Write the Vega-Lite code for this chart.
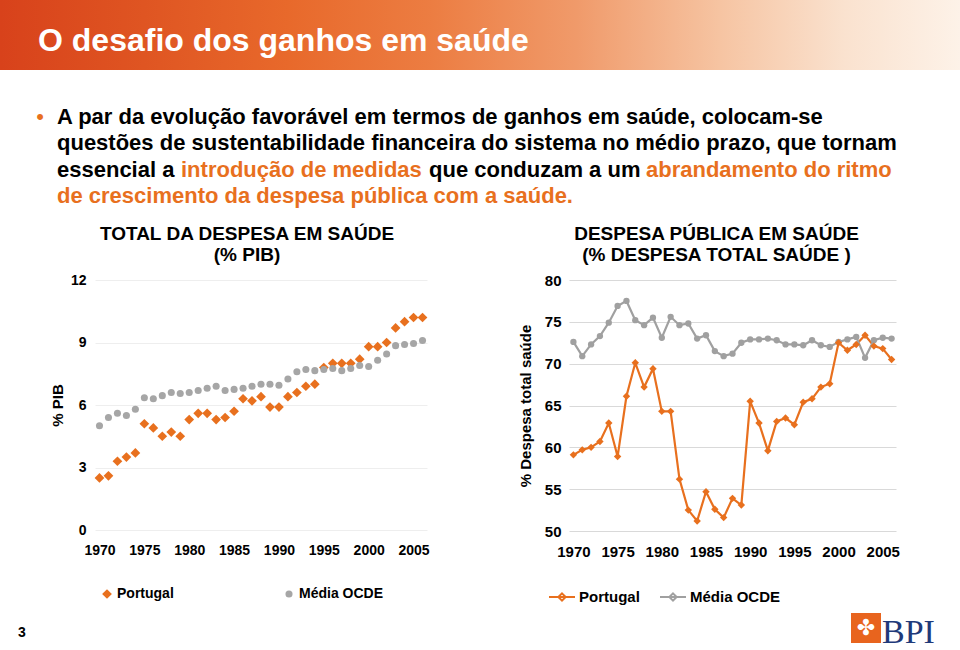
{
  "$schema": "https://vega.github.io/schema/vega-lite/v6.json",
  "padding": 0,
  "background": "white",
  "spacing": 0,
  "bounds": "flush",
  "config": {
    "view": {"stroke": null},
    "font": "Liberation Sans",
    "concat": {"spacing": 0},
    "axis": {"domain": false, "ticks": false, "labelFontWeight": "bold", "labelColor": "#000", "titleColor": "#000", "titleFontWeight": "bold", "labelFont": "Liberation Sans", "titleFont": "Liberation Sans"},
    "legend": {"labelFont": "Liberation Sans"},
    "title": {"font": "Liberation Sans"}
  },
  "datasets": {
    "pib": [
      {"ano": 1970, "serie": "Portugal", "v": 2.5}, {"ano": 1971, "serie": "Portugal", "v": 2.6}, {"ano": 1972, "serie": "Portugal", "v": 3.3}, {"ano": 1973, "serie": "Portugal", "v": 3.5}, {"ano": 1974, "serie": "Portugal", "v": 3.7},
      {"ano": 1975, "serie": "Portugal", "v": 5.1}, {"ano": 1976, "serie": "Portugal", "v": 4.9}, {"ano": 1977, "serie": "Portugal", "v": 4.5}, {"ano": 1978, "serie": "Portugal", "v": 4.7}, {"ano": 1979, "serie": "Portugal", "v": 4.5},
      {"ano": 1980, "serie": "Portugal", "v": 5.3}, {"ano": 1981, "serie": "Portugal", "v": 5.6}, {"ano": 1982, "serie": "Portugal", "v": 5.6}, {"ano": 1983, "serie": "Portugal", "v": 5.3}, {"ano": 1984, "serie": "Portugal", "v": 5.4},
      {"ano": 1985, "serie": "Portugal", "v": 5.7}, {"ano": 1986, "serie": "Portugal", "v": 6.3}, {"ano": 1987, "serie": "Portugal", "v": 6.2}, {"ano": 1988, "serie": "Portugal", "v": 6.4}, {"ano": 1989, "serie": "Portugal", "v": 5.9},
      {"ano": 1990, "serie": "Portugal", "v": 5.9}, {"ano": 1991, "serie": "Portugal", "v": 6.4}, {"ano": 1992, "serie": "Portugal", "v": 6.6}, {"ano": 1993, "serie": "Portugal", "v": 6.9}, {"ano": 1994, "serie": "Portugal", "v": 7.0},
      {"ano": 1995, "serie": "Portugal", "v": 7.8}, {"ano": 1996, "serie": "Portugal", "v": 8.0}, {"ano": 1997, "serie": "Portugal", "v": 8.0}, {"ano": 1998, "serie": "Portugal", "v": 8.0}, {"ano": 1999, "serie": "Portugal", "v": 8.2},
      {"ano": 2000, "serie": "Portugal", "v": 8.8}, {"ano": 2001, "serie": "Portugal", "v": 8.8}, {"ano": 2002, "serie": "Portugal", "v": 9.0}, {"ano": 2003, "serie": "Portugal", "v": 9.7}, {"ano": 2004, "serie": "Portugal", "v": 10.0},
      {"ano": 2005, "serie": "Portugal", "v": 10.2}, {"ano": 2006, "serie": "Portugal", "v": 10.2},
      {"ano": 1970, "serie": "Média OCDE", "v": 5.0}, {"ano": 1971, "serie": "Média OCDE", "v": 5.4}, {"ano": 1972, "serie": "Média OCDE", "v": 5.6}, {"ano": 1973, "serie": "Média OCDE", "v": 5.5}, {"ano": 1974, "serie": "Média OCDE", "v": 5.8},
      {"ano": 1975, "serie": "Média OCDE", "v": 6.35}, {"ano": 1976, "serie": "Média OCDE", "v": 6.3}, {"ano": 1977, "serie": "Média OCDE", "v": 6.45}, {"ano": 1978, "serie": "Média OCDE", "v": 6.6}, {"ano": 1979, "serie": "Média OCDE", "v": 6.55},
      {"ano": 1980, "serie": "Média OCDE", "v": 6.6}, {"ano": 1981, "serie": "Média OCDE", "v": 6.7}, {"ano": 1982, "serie": "Média OCDE", "v": 6.8}, {"ano": 1983, "serie": "Média OCDE", "v": 6.9}, {"ano": 1984, "serie": "Média OCDE", "v": 6.7},
      {"ano": 1985, "serie": "Média OCDE", "v": 6.75}, {"ano": 1986, "serie": "Média OCDE", "v": 6.8}, {"ano": 1987, "serie": "Média OCDE", "v": 6.9}, {"ano": 1988, "serie": "Média OCDE", "v": 7.0}, {"ano": 1989, "serie": "Média OCDE", "v": 7.0},
      {"ano": 1990, "serie": "Média OCDE", "v": 6.95}, {"ano": 1991, "serie": "Média OCDE", "v": 7.25}, {"ano": 1992, "serie": "Média OCDE", "v": 7.6}, {"ano": 1993, "serie": "Média OCDE", "v": 7.7}, {"ano": 1994, "serie": "Média OCDE", "v": 7.65},
      {"ano": 1995, "serie": "Média OCDE", "v": 7.7}, {"ano": 1996, "serie": "Média OCDE", "v": 7.75}, {"ano": 1997, "serie": "Média OCDE", "v": 7.65}, {"ano": 1998, "serie": "Média OCDE", "v": 7.75}, {"ano": 1999, "serie": "Média OCDE", "v": 7.9},
      {"ano": 2000, "serie": "Média OCDE", "v": 7.85}, {"ano": 2001, "serie": "Média OCDE", "v": 8.15}, {"ano": 2002, "serie": "Média OCDE", "v": 8.45}, {"ano": 2003, "serie": "Média OCDE", "v": 8.85}, {"ano": 2004, "serie": "Média OCDE", "v": 8.9},
      {"ano": 2005, "serie": "Média OCDE", "v": 8.95}, {"ano": 2006, "serie": "Média OCDE", "v": 9.1}
    ],
    "pub": [
      {"ano": 1970, "serie": "Portugal", "v": 59.1}, {"ano": 1971, "serie": "Portugal", "v": 59.7}, {"ano": 1972, "serie": "Portugal", "v": 60.0}, {"ano": 1973, "serie": "Portugal", "v": 60.7}, {"ano": 1974, "serie": "Portugal", "v": 62.9},
      {"ano": 1975, "serie": "Portugal", "v": 58.9}, {"ano": 1976, "serie": "Portugal", "v": 66.1}, {"ano": 1977, "serie": "Portugal", "v": 70.1}, {"ano": 1978, "serie": "Portugal", "v": 67.2}, {"ano": 1979, "serie": "Portugal", "v": 69.4},
      {"ano": 1980, "serie": "Portugal", "v": 64.3}, {"ano": 1981, "serie": "Portugal", "v": 64.3}, {"ano": 1982, "serie": "Portugal", "v": 56.2}, {"ano": 1983, "serie": "Portugal", "v": 52.5}, {"ano": 1984, "serie": "Portugal", "v": 51.2},
      {"ano": 1985, "serie": "Portugal", "v": 54.7}, {"ano": 1986, "serie": "Portugal", "v": 52.6}, {"ano": 1987, "serie": "Portugal", "v": 51.6}, {"ano": 1988, "serie": "Portugal", "v": 53.9}, {"ano": 1989, "serie": "Portugal", "v": 53.1},
      {"ano": 1990, "serie": "Portugal", "v": 65.5}, {"ano": 1991, "serie": "Portugal", "v": 62.9}, {"ano": 1992, "serie": "Portugal", "v": 59.6}, {"ano": 1993, "serie": "Portugal", "v": 63.1}, {"ano": 1994, "serie": "Portugal", "v": 63.5},
      {"ano": 1995, "serie": "Portugal", "v": 62.7}, {"ano": 1996, "serie": "Portugal", "v": 65.4}, {"ano": 1997, "serie": "Portugal", "v": 65.8}, {"ano": 1998, "serie": "Portugal", "v": 67.2}, {"ano": 1999, "serie": "Portugal", "v": 67.6},
      {"ano": 2000, "serie": "Portugal", "v": 72.5}, {"ano": 2001, "serie": "Portugal", "v": 71.6}, {"ano": 2002, "serie": "Portugal", "v": 72.3}, {"ano": 2003, "serie": "Portugal", "v": 73.4}, {"ano": 2004, "serie": "Portugal", "v": 72.1},
      {"ano": 2005, "serie": "Portugal", "v": 71.8}, {"ano": 2006, "serie": "Portugal", "v": 70.5},
      {"ano": 1970, "serie": "Média OCDE", "v": 72.6}, {"ano": 1971, "serie": "Média OCDE", "v": 70.9}, {"ano": 1972, "serie": "Média OCDE", "v": 72.3}, {"ano": 1973, "serie": "Média OCDE", "v": 73.3}, {"ano": 1974, "serie": "Média OCDE", "v": 74.9},
      {"ano": 1975, "serie": "Média OCDE", "v": 76.9}, {"ano": 1976, "serie": "Média OCDE", "v": 77.5}, {"ano": 1977, "serie": "Média OCDE", "v": 75.2}, {"ano": 1978, "serie": "Média OCDE", "v": 74.6}, {"ano": 1979, "serie": "Média OCDE", "v": 75.5},
      {"ano": 1980, "serie": "Média OCDE", "v": 73.1}, {"ano": 1981, "serie": "Média OCDE", "v": 75.6}, {"ano": 1982, "serie": "Média OCDE", "v": 74.6}, {"ano": 1983, "serie": "Média OCDE", "v": 74.8}, {"ano": 1984, "serie": "Média OCDE", "v": 73.0},
      {"ano": 1985, "serie": "Média OCDE", "v": 73.4}, {"ano": 1986, "serie": "Média OCDE", "v": 71.5}, {"ano": 1987, "serie": "Média OCDE", "v": 70.9}, {"ano": 1988, "serie": "Média OCDE", "v": 71.2}, {"ano": 1989, "serie": "Média OCDE", "v": 72.5},
      {"ano": 1990, "serie": "Média OCDE", "v": 72.9}, {"ano": 1991, "serie": "Média OCDE", "v": 72.9}, {"ano": 1992, "serie": "Média OCDE", "v": 73.0}, {"ano": 1993, "serie": "Média OCDE", "v": 72.8}, {"ano": 1994, "serie": "Média OCDE", "v": 72.3},
      {"ano": 1995, "serie": "Média OCDE", "v": 72.3}, {"ano": 1996, "serie": "Média OCDE", "v": 72.2}, {"ano": 1997, "serie": "Média OCDE", "v": 72.8}, {"ano": 1998, "serie": "Média OCDE", "v": 72.2}, {"ano": 1999, "serie": "Média OCDE", "v": 72.0},
      {"ano": 2000, "serie": "Média OCDE", "v": 72.6}, {"ano": 2001, "serie": "Média OCDE", "v": 72.9}, {"ano": 2002, "serie": "Média OCDE", "v": 73.2}, {"ano": 2003, "serie": "Média OCDE", "v": 70.7}, {"ano": 2004, "serie": "Média OCDE", "v": 72.8},
      {"ano": 2005, "serie": "Média OCDE", "v": 73.1}, {"ano": 2006, "serie": "Média OCDE", "v": 73.0}
    ]
  },
  "vconcat": [
    {
      "width": 960,
      "height": 70,
      "data": {"values": [{}]},
      "layer": [
        {
          "mark": {"type": "rect", "color": {"gradient": "linear", "x1": 0, "y1": 0, "x2": 1, "y2": 0, "stops": [
            {"offset": 0, "color": "#d8421b"},
            {"offset": 0.15, "color": "#df5522"},
            {"offset": 0.3, "color": "#e8692b"},
            {"offset": 0.45, "color": "#ec7d42"},
            {"offset": 0.6, "color": "#f09a6a"},
            {"offset": 0.75, "color": "#f6c4a2"},
            {"offset": 0.88, "color": "#fae2cf"},
            {"offset": 1, "color": "#fdf2e8"}
          ]}},
          "encoding": {}
        },
        {
          "mark": {"type": "text", "text": "O desafio dos ganhos em saúde", "align": "left", "baseline": "middle", "fontSize": 32, "fontWeight": "bold", "color": "white", "font": "Liberation Sans"},
          "encoding": {"x": {"value": 38}, "y": {"value": 41}}
        }
      ]
    },
    {
      "width": 960,
      "height": 210,
      "data": {"values": [{}]},
      "layer": [
        {"mark": {"type": "text", "text": "•", "align": "center", "baseline": "alphabetic", "fontSize": 22, "color": "#E8701E"}, "encoding": {"x": {"value": 40}, "y": {"value": 54}}},
        {"mark": {"type": "text", "text": "A par da evolução favorável em termos de ganhos em saúde, colocam-se", "align": "left", "baseline": "alphabetic", "fontSize": 22, "fontWeight": "bold", "color": "#000"}, "encoding": {"x": {"value": 57}, "y": {"value": 54}}},
        {"mark": {"type": "text", "text": "questões de sustentabilidade financeira do sistema no médio prazo, que tornam", "align": "left", "baseline": "alphabetic", "fontSize": 22, "fontWeight": "bold", "color": "#000"}, "encoding": {"x": {"value": 57}, "y": {"value": 80}}},
        {"mark": {"type": "text", "text": "essencial a", "align": "left", "baseline": "alphabetic", "fontSize": 22, "fontWeight": "bold", "color": "#000"}, "encoding": {"x": {"value": 57}, "y": {"value": 107}}},
        {"mark": {"type": "text", "text": "introdução de medidas", "align": "left", "baseline": "alphabetic", "fontSize": 22, "fontWeight": "bold", "color": "#E8701E"}, "encoding": {"x": {"value": 181}, "y": {"value": 107}}},
        {"mark": {"type": "text", "text": "que conduzam a um", "align": "left", "baseline": "alphabetic", "fontSize": 22, "fontWeight": "bold", "color": "#000"}, "encoding": {"x": {"value": 429}, "y": {"value": 107}}},
        {"mark": {"type": "text", "text": "abrandamento do ritmo", "align": "left", "baseline": "alphabetic", "fontSize": 22, "fontWeight": "bold", "color": "#E8701E"}, "encoding": {"x": {"value": 646}, "y": {"value": 107}}},
        {"mark": {"type": "text", "text": "de crescimento da despesa pública com a saúde.", "align": "left", "baseline": "alphabetic", "fontSize": 22, "fontWeight": "bold", "color": "#E8701E"}, "encoding": {"x": {"value": 57}, "y": {"value": 133}}},
        {"mark": {"type": "text", "text": "3", "align": "left", "baseline": "alphabetic", "fontSize": 14, "fontWeight": "bold", "color": "#000"}, "encoding": {"x": {"value": 18}, "y": {"value": 567}}},
        {"mark": {"type": "point", "shape": "square", "size": 900, "filled": true, "opacity": 1, "color": "#E8641E"}, "encoding": {"x": {"value": 866}, "y": {"value": 558}}},
        {"mark": {"type": "text", "text": "✤", "align": "center", "baseline": "middle", "fontSize": 22, "color": "white", "font": "DejaVu Sans"}, "encoding": {"x": {"value": 866}, "y": {"value": 558}}},
        {"mark": {"type": "text", "text": "BPI", "align": "left", "baseline": "alphabetic", "fontSize": 34, "color": "#1f3a7a", "font": "Liberation Serif"}, "encoding": {"x": {"value": 882}, "y": {"value": 573}}}
      ]
    },
    {
      "spacing": 0,
      "bounds": "flush",
      "resolve": {"scale": {"x": "independent", "y": "independent", "color": "independent", "shape": "independent", "size": "independent"}, "legend": {"color": "independent", "shape": "independent", "size": "independent"}},
      "hconcat": [
        {"width": 95, "height": 250, "data": {"values": []}, "mark": "point", "encoding": {}},
        {
          "width": 332,
          "height": 250,
          "data": {"name": "pib"},
          "title": {"text": ["TOTAL DA DESPESA EM SAÚDE", "(% PIB)"], "fontSize": 19, "fontWeight": "bold", "color": "#000", "anchor": "middle", "frame": "group", "dx": -14, "offset": 8, "lineHeight": 21},
          "mark": {"type": "point", "filled": true, "opacity": 1},
          "encoding": {
            "x": {"field": "ano", "type": "quantitative", "scale": {"domain": [1969.5, 2006.5], "nice": false, "zero": false},
                  "axis": {"values": [1970, 1975, 1980, 1985, 1990, 1995, 2000, 2005], "format": "d", "title": null, "grid": false, "labelFontSize": 14, "labelPadding": 13, "labelFlush": false}},
            "y": {"field": "v", "type": "quantitative", "scale": {"domain": [0, 12], "nice": false},
                  "axis": {"values": [0, 3, 6, 9, 12], "title": "% PIB", "titleFontSize": 15, "titlePadding": 5, "labelFontSize": 14, "labelPadding": 9, "grid": true, "gridColor": "#eeeeee"}},
            "color": {"field": "serie", "type": "nominal", "scale": {"domain": ["Portugal", "Média OCDE"], "range": ["#E8701E", "#A6A6A6"]},
                      "legend": {"title": null, "orient": "none", "legendX": 5, "legendY": 307, "direction": "horizontal", "columnPadding": 108, "labelFontSize": 14, "labelFontWeight": "bold", "labelColor": "#000", "labelOffset": 3}},
            "shape": {"field": "serie", "type": "nominal", "scale": {"domain": ["Portugal", "Média OCDE"], "range": ["diamond", "circle"]},
                      "legend": {"title": null, "orient": "none", "legendX": 5, "legendY": 307, "direction": "horizontal", "columnPadding": 108, "labelFontSize": 14, "labelFontWeight": "bold", "labelColor": "#000", "labelOffset": 3}},
            "size": {"field": "serie", "type": "nominal", "scale": {"domain": ["Portugal", "Média OCDE"], "range": [95, 50]},
                     "legend": {"title": null, "orient": "none", "legendX": 5, "legendY": 307, "direction": "horizontal", "columnPadding": 108, "labelFontSize": 14, "labelFontWeight": "bold", "labelColor": "#000", "labelOffset": 3}}
          }
        },
        {"width": 142, "height": 250, "data": {"values": []}, "mark": "point", "encoding": {}},
        {
          "width": 327,
          "height": 251,
          "data": {"name": "pub"},
          "title": {"text": ["DESPESA PÚBLICA EM SAÚDE", "(% DESPESA TOTAL SAÚDE )"], "fontSize": 19, "fontWeight": "bold", "color": "#000", "anchor": "middle", "frame": "group", "dx": -16, "offset": 8, "lineHeight": 21},
          "encoding": {
            "x": {"field": "ano", "type": "quantitative", "scale": {"domain": [1969.5, 2006.5], "nice": false, "zero": false},
                  "axis": {"values": [1970, 1975, 1980, 1985, 1990, 1995, 2000, 2005], "format": "d", "title": null, "grid": false, "labelFontSize": 15, "labelPadding": 13, "labelFlush": false}},
            "y": {"field": "v", "type": "quantitative", "scale": {"domain": [50, 80], "nice": false, "zero": false},
                  "axis": {"values": [50, 55, 60, 65, 70, 75, 80], "title": "% Despesa total saúde", "titleFontSize": 15, "titlePadding": 11, "labelFontSize": 15, "labelPadding": 8, "grid": true, "gridColor": "#d9d9d9"}}
          },
          "layer": [
            {
              "mark": {"type": "line", "strokeWidth": 2.2},
              "encoding": {
                "color": {"field": "serie", "type": "nominal", "scale": {"domain": ["Portugal", "Média OCDE"], "range": ["#E8701E", "#A0A0A0"]},
                          "legend": {"title": null, "orient": "none", "legendX": -21, "legendY": 303, "direction": "horizontal", "columnPadding": 16, "symbolType": "M-1,0L1,0M0,-0.28L0.28,0L0,0.28L-0.28,0Z", "symbolSize": 676, "symbolStrokeWidth": 2, "labelFontSize": 15, "labelFontWeight": "bold", "labelColor": "#000", "labelOffset": 3}}
              }
            },
            {
              "transform": [{"filter": "datum.serie === 'Média OCDE'"}],
              "mark": {"type": "point", "filled": true, "opacity": 1, "size": 40, "shape": "circle", "color": "#A0A0A0"}
            },
            {
              "transform": [{"filter": "datum.serie === 'Portugal'"}],
              "mark": {"type": "point", "filled": true, "opacity": 1, "size": 55, "shape": "diamond", "color": "#E8701E"}
            }
          ]
        }
      ]
    }
  ]
}
